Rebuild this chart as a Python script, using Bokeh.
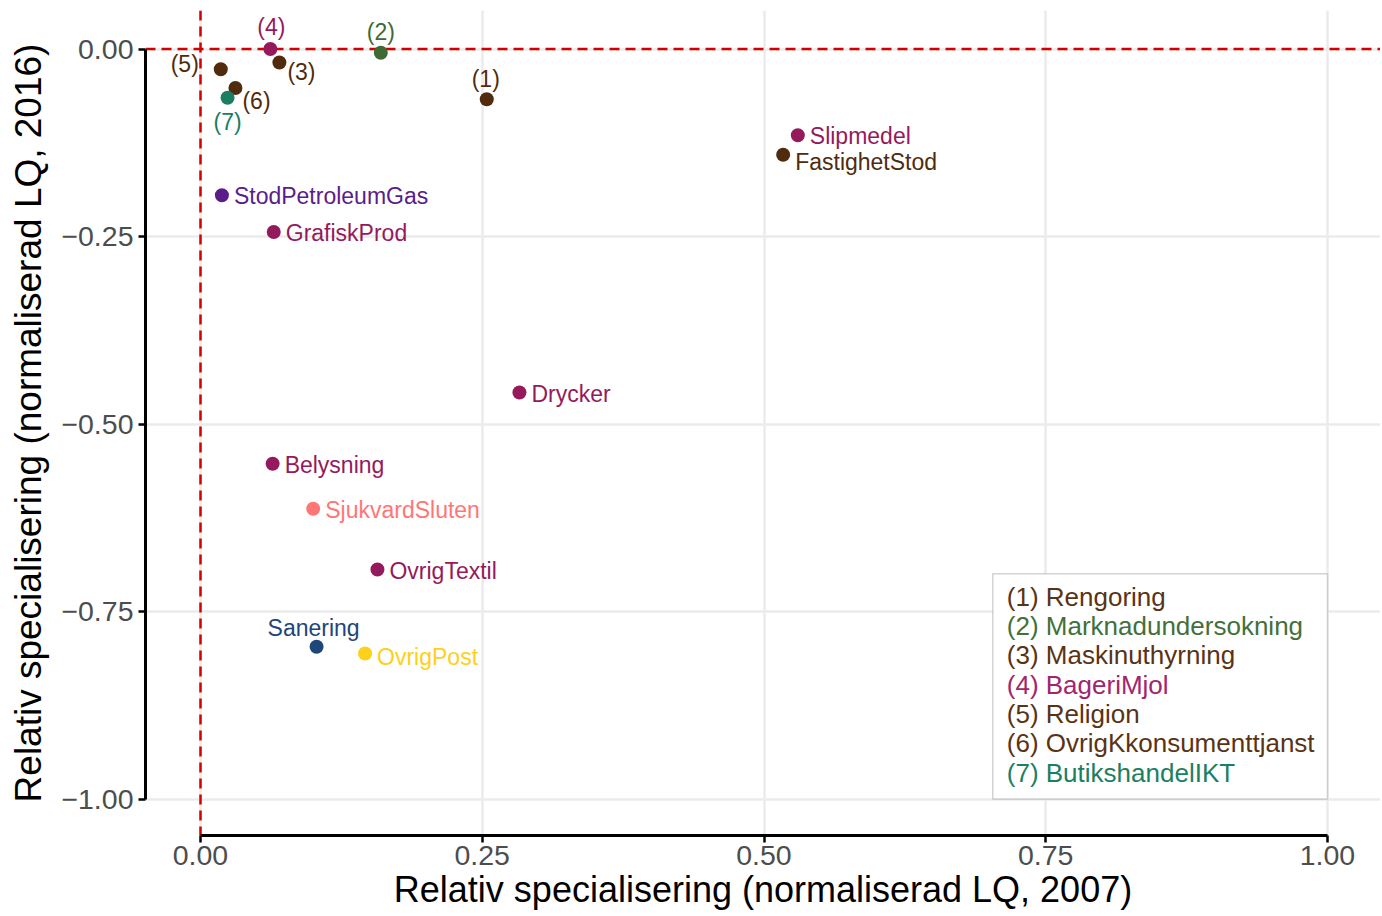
from bokeh.plotting import figure
from bokeh.models import ColumnDataSource, Range1d, FixedTicker, Span, BoxAnnotation, Label
from bokeh.embed import file_html
from bokeh.resources import INLINE
from bokeh.core.properties import value

# ---------------- data ----------------
names = ["Rengoring", "Marknadundersokning", "Maskinuthyrning", "BageriMjol",
         "Religion", "OvrigKkonsumenttjanst", "ButikshandelIKT",
         "Slipmedel", "FastighetStod", "StodPetroleumGas", "GrafiskProd",
         "Drycker", "Belysning", "SjukvardSluten", "OvrigTextil",
         "Sanering", "OvrigPost"]
point_labels = ["(1)", "(2)", "(3)", "(4)", "(5)", "(6)", "(7)",
                "Slipmedel", "FastighetStod", "StodPetroleumGas", "GrafiskProd",
                "Drycker", "Belysning", "SjukvardSluten", "OvrigTextil",
                "Sanering", "OvrigPost"]
lq2007 = [0.254, 0.160, 0.070, 0.062, 0.018, 0.031, 0.024,
          0.530, 0.517, 0.019, 0.065, 0.283, 0.064, 0.100, 0.157,
          0.103, 0.146]
lq2016 = [-0.067, -0.005, -0.018, 0.000, -0.027, -0.052, -0.065,
          -0.115, -0.141, -0.195, -0.244, -0.458, -0.553, -0.613, -0.694,
          -0.797, -0.806]
sector = ["tjanst", "tjanst_gron", "tjanst", "livs", "tjanst", "tjanst", "handel",
          "livs", "tjanst", "petro", "livs", "livs", "livs", "vard", "livs",
          "sanering", "post"]
legend_entries = ["(1) Rengoring", "(2) Marknadundersokning", "(3) Maskinuthyrning",
                  "(4) BageriMjol", "(5) Religion", "(6) OvrigKkonsumenttjanst",
                  "(7) ButikshandelIKT"]
legend_sector = ["tjanst", "tjanst_gron", "tjanst", "livs", "tjanst", "tjanst", "handel"]

x_ticks = [0.0, 0.25, 0.5, 0.75, 1.0]
x_tick_labels = ["0.00", "0.25", "0.50", "0.75", "1.00"]
y_ticks = [0.0, -0.25, -0.5, -0.75, -1.0]
y_tick_labels = ["0.00", "\u22120.25", "\u22120.50", "\u22120.75", "\u22121.00"]

x_title = "Relativ specialisering (normaliserad LQ, 2007)"
y_title = "Relativ specialisering (normaliserad LQ, 2016)"

# ---------------- style ----------------
FONT = "Liberation Sans"
palette = {
    "tjanst": "#512B0D",
    "tjanst_gron": "#3E6A34",
    "livs": "#941A5C",
    "handel": "#1A7E60",
    "petro": "#5A1D8A",
    "vard": "#FF7676",
    "sanering": "#1F4679",
    "post": "#FDD01C",
}
legend_palette = {
    "tjanst": "#5A3314",
    "tjanst_gron": "#43703A",
    "livs": "#A0266E",
    "handel": "#1B8062",
}
# label placement: (align, dx px, dy px downward)
label_pos = {
    "(1)": ("center", -1, -20), "(2)": ("center", 0, -21), "(3)": ("left", 8, 9),
    "(4)": ("center", 1, -22), "(5)": ("right", -22, -5), "(6)": ("left", 7, 13),
    "(7)": ("center", 0, 24), "Sanering": ("center", -3, -19),
    "FastighetStod": ("left", 12, 7), "OvrigPost": ("left", 12, 3),
}
default_pos = ("left", 12, 1)

W, H = 1380, 914
B_LEFT, B_TOP, B_BOTTOM = 145, 10, 79
PX_PER_X, PX_PER_Y = 1127.0, 750.0
X0_PX, Y0_PX = 200.0, 48.5
frame_w, frame_h = W - B_LEFT, H - B_TOP - B_BOTTOM
x_start = (B_LEFT - X0_PX) / PX_PER_X
y_end = (Y0_PX - B_TOP) / PX_PER_Y

p = figure(width=W, height=H, output_backend="svg", toolbar_location=None,
           x_range=Range1d(x_start, x_start + frame_w / PX_PER_X),
           y_range=Range1d(y_end - frame_h / PX_PER_Y, y_end),
           min_border_left=B_LEFT, min_border_right=0, min_border_top=B_TOP,
           min_border_bottom=B_BOTTOM)
p.outline_line_color = None
p.background_fill_color = "white"
p.border_fill_color = "white"

# grid
p.xgrid.ticker = FixedTicker(ticks=x_ticks)
p.ygrid.ticker = FixedTicker(ticks=y_ticks)
for g in (p.xgrid, p.ygrid):
    g.grid_line_color = "#EBEBEB"
    g.grid_line_width = 2.5
    g.minor_grid_line_color = None

# axes
p.xaxis.ticker = FixedTicker(ticks=x_ticks)
p.yaxis.ticker = FixedTicker(ticks=y_ticks)
p.xaxis.major_label_overrides = {t: l for t, l in zip(x_ticks, x_tick_labels)}
p.yaxis.major_label_overrides = {t: l for t, l in zip(y_ticks, y_tick_labels)}
p.xaxis.bounds = (min(x_ticks), max(x_ticks))
p.yaxis.bounds = (min(y_ticks), max(y_ticks))
p.xaxis.axis_label = x_title
p.yaxis.axis_label = y_title
for ax in (p.xaxis, p.yaxis):
    ax.axis_line_color = "black"
    ax.axis_line_width = 3
    ax.major_tick_line_color = "black"
    ax.major_tick_line_width = 2.5
    ax.major_tick_out = 7
    ax.major_tick_in = 0
    ax.minor_tick_line_color = None
    ax.major_label_text_font = FONT
    ax.major_label_text_font_size = "28.5px"
    ax.major_label_text_color = "#4D4D4D"
    ax.axis_label_text_font = FONT
    ax.axis_label_text_font_style = "normal"
    ax.axis_label_text_color = "black"
p.xaxis.axis_label_text_font_size = "36px"
p.yaxis.axis_label_text_font_size = "37px"
p.xaxis.major_label_standoff = 3
p.xaxis.axis_label_standoff = 1
p.yaxis.major_label_standoff = 5
p.yaxis.axis_label_standoff = 9

# reference lines
p.add_layout(Span(location=0, dimension="height", line_color="#D40000",
                  line_width=2.5, line_dash="10 6", level="underlay"))
p.add_layout(Span(location=0, dimension="width", line_color="#D40000",
                  line_width=2.5, line_dash="10 6", level="underlay"))

# points
colors = [palette[s] for s in sector]
src = ColumnDataSource(dict(x=lq2007, y=lq2016, name=names, label=point_labels, color=colors))
p.scatter("x", "y", source=src, size=14, color="color", line_color=None)

# labels
for align in ("left", "center", "right"):
    d = dict(x=[], y=[], text=[], color=[], dx=[], dy=[])
    for xx, yy, lab, col in zip(lq2007, lq2016, point_labels, colors):
        a, dx, dy = label_pos.get(lab, default_pos)
        if a != align:
            continue
        d["x"].append(xx); d["y"].append(yy); d["text"].append(lab)
        d["color"].append(col); d["dx"].append(dx); d["dy"].append(dy)
    if d["x"]:
        p.text("x", "y", text="text", source=ColumnDataSource(d), x_offset="dx",
               y_offset="dy", text_color="color", text_align=align,
               text_baseline="middle", text_font=value(FONT), text_font_size="23px")

# legend box (annotation)
box_left, box_right = 0.703, 1.0
box_top, box_bottom = -0.6995, -1.0
p.add_layout(BoxAnnotation(left=box_left, right=box_right, top=box_top, bottom=box_bottom,
                           fill_color="white", fill_alpha=1.0, line_color="#6E6E6E",
                           line_width=1.5, level="annotation"))
for i, (entry, s) in enumerate(zip(legend_entries, legend_sector)):
    yy = box_top - (23.0 + i * 29.35) / PX_PER_Y
    p.add_layout(Label(x=box_left + 14.0 / PX_PER_X, y=yy, text=entry,
                       text_color=legend_palette[s], text_font=FONT,
                       text_font_size="26px", text_baseline="middle",
                       text_align="left"))

open("out.html", "w").write(file_html(p, INLINE))
